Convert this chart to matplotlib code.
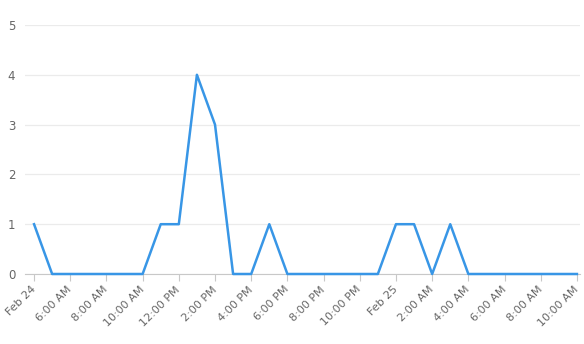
import pandas as pd
import matplotlib
matplotlib.use('Agg')
import matplotlib.pyplot as plt
import matplotlib.dates as mdates

# hourly counts from Feb 24 04:00 to Feb 25 10:00
start = '2024-02-24 04:00'
counts = [1, 0, 0, 0, 0, 0, 0, 1, 1, 4, 3, 0, 0, 1, 0, 0, 0, 0, 0, 0,
          1, 1, 0, 1, 0, 0, 0, 0, 0, 0, 0]
tick_labels = ['Feb 24', '6:00 AM', '8:00 AM', '10:00 AM', '12:00 PM', '2:00 PM',
               '4:00 PM', '6:00 PM', '8:00 PM', '10:00 PM', 'Feb 25', '2:00 AM',
               '4:00 AM', '6:00 AM', '8:00 AM', '10:00 AM']

times = pd.date_range(start, periods=len(counts), freq='h')
ticks = pd.date_range(start, periods=len(tick_labels), freq='2h')

fig = plt.figure(figsize=(5.84, 3.44), dpi=100)
ax = fig.add_axes([25/584, 1-274/344, 555/584, 249/344])

ax.plot(times, counts, color='#3896e6', lw=1.8, clip_on=False, zorder=3)

ax.set_ylim(0, 5)
ax.set_yticks(range(6))
hr = pd.Timedelta(hours=1)
ax.set_xlim(mdates.date2num(times[0] - 0.5*hr), mdates.date2num(times[-1] + 0.17*hr))
ax.set_xticks(ticks)
ax.set_xticklabels(tick_labels, rotation=45, ha='right', va='center', rotation_mode='anchor')

ax.grid(axis='y', color='#ebebeb', lw=0.9)
ax.set_axisbelow(True)
for s in ['top', 'right', 'left']:
    ax.spines[s].set_visible(False)
ax.spines['bottom'].set_color('#c8c8c8')
ax.tick_params(axis='y', length=0, pad=7, labelsize=8.5, labelcolor='#666666')
ax.tick_params(axis='x', length=5, color='#c8c8c8', pad=5, labelsize=8, labelcolor='#666666')

fig.savefig('out.png', dpi=100)
